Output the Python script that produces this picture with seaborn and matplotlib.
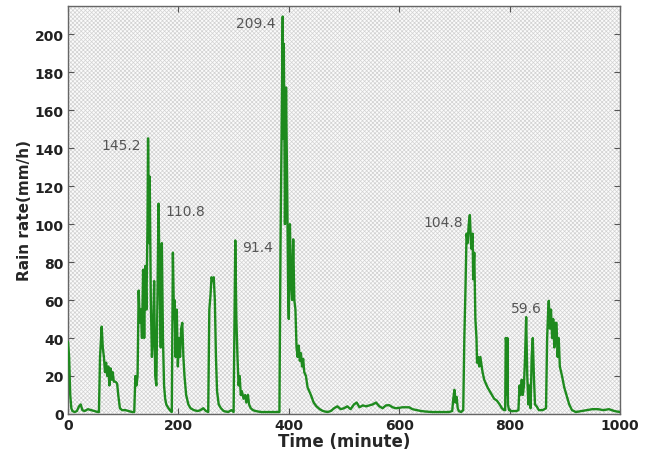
import pandas as pd
import seaborn as sns
from matplotlib import pyplot as plt
from matplotlib.patches import Rectangle

# rain rate trace (time in minutes, rate in mm/h)
time_min = [
    0, 2, 4, 6, 8, 12, 16, 20, 23, 26, 30, 36, 42, 48, 54, 56,
    58, 61, 63, 65, 67, 69, 71, 73, 75, 77, 79, 81, 83, 86, 89, 91, 94, 98, 104, 110, 116, 120,
    122, 124, 126, 128, 130, 132, 134, 136, 138, 140, 142, 144, 145, 147, 148, 150, 152, 154,
    156, 158, 160, 162, 164, 166, 168, 170, 172, 174, 176, 178, 182, 186, 188,
    190, 192, 193, 195, 197, 199, 201, 203, 205, 207, 209, 211, 214, 218, 222, 228, 235, 240,
    245, 250, 254,
    256, 258, 260, 262, 264, 266, 268, 270, 273, 277, 282, 290, 296, 300,
    303, 305, 307, 309, 311, 313, 315, 318, 321, 323, 326, 328, 331, 335, 340, 350, 360, 370,
    380, 383,
    385, 387, 389, 390, 391, 393, 395, 397, 399, 400, 402, 404, 406, 408, 410, 412, 414, 416,
    418, 420, 422, 424, 426, 428, 431, 434, 437, 440, 445, 450, 456, 462, 470, 476, 482, 488,
    494, 500, 506, 512, 518, 523, 528, 534, 540, 546, 552, 558, 564, 570, 576, 582, 588, 594,
    600, 606, 612, 618, 624, 632, 640, 650, 660, 670, 680, 690, 696,
    698, 700, 702, 704, 706, 708, 712, 716,
    718, 720, 722, 724, 726, 728, 730, 731, 733, 734, 736, 738, 740, 741, 743, 745, 747, 749,
    751, 754, 757, 760, 764, 768, 772, 777, 782, 786, 790, 792,
    793, 794, 795, 796, 797, 799, 803, 808, 812, 816,
    818, 820, 822, 824, 826, 828, 830, 832, 834, 836, 838, 840, 842, 844, 846, 849, 853, 860, 866,
    868, 870, 871, 873, 875, 877, 879, 881, 883, 885, 887, 889, 891, 895, 899, 903, 908, 913,
    920, 930, 940, 950, 960, 970, 980, 990, 1000,
]
rain_rate = [
    38, 30, 10, 3, 1.5, 1, 1.5, 4, 5, 2, 1.5, 2.5, 2, 1.5, 1, 1,
    30, 46, 35, 30, 22, 27, 20, 25, 15, 24, 18, 22, 17, 17, 16, 10, 3, 2, 2, 1.5, 1, 1,
    20, 15, 20, 65, 48, 55, 40, 76, 40, 78, 55, 100, 145.2, 90, 125, 60, 30, 40,
    70, 20, 15, 60, 110.8, 70, 35, 90, 40, 15, 8, 5, 3, 1.5, 1,
    85, 50, 60, 30, 55, 25, 40, 30, 45, 48, 30, 20, 10, 5, 3, 2, 1.5, 2,
    3, 1.5, 1,
    55, 62, 72, 70, 72, 60, 30, 12, 5, 3, 1.5, 1, 2, 1,
    91.4, 50, 30, 15, 20, 10, 12, 8, 10, 6, 10, 5, 3, 2, 1.5, 1, 1, 1,
    1, 1,
    90, 150, 209.4, 145, 195, 100, 172, 120, 60, 50, 100, 70, 60, 92, 60, 55, 35, 30,
    36, 28, 32, 25, 29, 22, 20, 14, 12, 10, 6, 4, 2.5, 1.5, 1, 1.5, 3, 4,
    2.5, 3, 4, 2.5, 5, 6, 3.5, 4.5, 4, 4.5, 5, 6, 4, 3, 4.5, 4.6, 3.5, 3,
    3.2, 3.5, 3.5, 3.5, 2.5, 2, 1.5, 1.2, 1, 1, 1, 1, 1.5,
    8, 12.7, 6, 9, 3, 1.5, 1, 2,
    40, 65, 95, 90, 100, 104.8, 90, 87, 95, 71, 85, 50, 40, 27, 30, 25, 30, 26,
    22, 18, 16, 14, 12, 10, 8, 7, 5, 3, 2, 2,
    40, 38, 10, 40, 5, 2, 1.5, 1.5, 1.5, 2,
    15, 10, 18, 10, 15, 30, 51, 20, 5, 15, 3, 30, 40, 20, 5, 4, 2, 2, 3,
    40, 55, 59.6, 45, 55, 40, 50, 35, 48, 48, 30, 40, 25, 20, 14, 10, 5, 2,
    1, 1.5, 2, 2.5, 2.5, 2, 2.5, 1.5, 1,
]

# labelled peaks
peak_time = [145, 389, 164, 303, 728, 871]
peak_value = [145.2, 209.4, 110.8, 91.4, 104.8, 59.6]
peak_side = ["left", "left", "right", "right", "left", "left"]

df = pd.DataFrame({"time": time_min, "rain": rain_rate})

sns.set_theme(style="ticks")
plt.rcParams["font.family"] = ["DejaVu Sans"]
plt.rcParams["hatch.linewidth"] = 0.5

fig = plt.figure(figsize=(6.54, 4.6), dpi=100)
ax = fig.add_axes([0.104, 0.098, 0.844, 0.887])

# light cross-hatched background
ax.set_facecolor("#fbfbfb")
ax.add_patch(Rectangle((0, 0), 1, 1, transform=ax.transAxes, facecolor="none",
                       edgecolor="#d2d2d2", hatch="xxxxxxxx", lw=0, zorder=0))

sns.lineplot(data=df, x="time", y="rain", ax=ax, color="#1e8a1e",
             linewidth=1.7, estimator=None, sort=False, zorder=3)

for t, v, side in zip(peak_time, peak_value, peak_side):
    dx = -5 if side == "left" else 5
    ax.annotate(f"{v:.1f}", xy=(t, v), xytext=(dx, -5), textcoords="offset points",
                ha="right" if side == "left" else "left", va="center",
                fontsize=10, color="#555555", zorder=4)

ax.set_xlim(0, 1000)
ax.set_ylim(0, 215)
ax.set_xticks(range(0, 1001, 200))
ax.set_yticks(range(0, 201, 20))
ax.tick_params(direction="in", top=True, right=True, labeltop=False, labelright=False,
               length=4, width=0.8, color="#555555", labelsize=10, pad=3)
for lab in ax.get_xticklabels() + ax.get_yticklabels():
    lab.set_fontweight("bold")
    lab.set_color("#222222")
for sp in ax.spines.values():
    sp.set_color("#666666")
    sp.set_linewidth(1.0)

ax.set_xlabel("Time (minute)", fontsize=12, fontweight="bold", labelpad=0)
ax.set_ylabel("Rain rate(mm/h)", fontsize=11, fontweight="bold", labelpad=2)

fig.savefig("out.png", dpi=100)
plt.close(fig)
